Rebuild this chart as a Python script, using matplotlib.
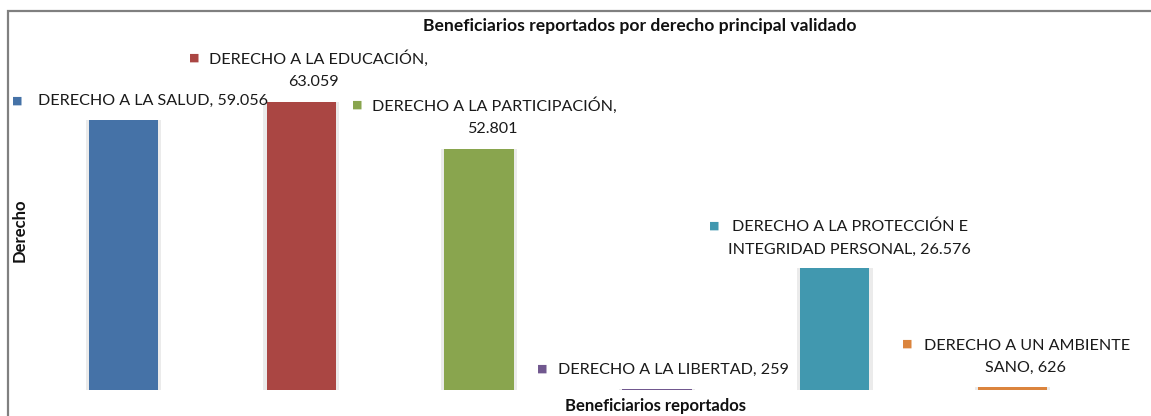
import matplotlib
matplotlib.use("Agg")
import matplotlib.pyplot as plt
from matplotlib.patches import Rectangle

categories = ["DERECHO A LA SALUD", "DERECHO A LA EDUCACIÓN", "DERECHO A LA PARTICIPACIÓN",
              "DERECHO A LA LIBERTAD", "DERECHO A LA PROTECCIÓN E INTEGRIDAD PERSONAL",
              "DERECHO A UN AMBIENTE SANO"]
values = [59056, 63059, 52801, 259, 26576, 626]
colors = ["#4572A7", "#AA4643", "#89A54E", "#71588F", "#4198AF", "#DB843D"]

title = "Beneficiarios reportados por derecho principal validado"
xlabel = "Beneficiarios reportados"
ylabel = "Derecho"

# label line splits (text) and layout offsets in pixels relative to bar top centre
label_lines = [
    ["DERECHO A LA SALUD, {v}"],
    ["DERECHO A LA EDUCACIÓN,", "{v}"],
    ["DERECHO A LA PARTICIPACIÓN,", "{v}"],
    ["DERECHO A LA LIBERTAD, {v}"],
    ["DERECHO A LA PROTECCIÓN E", "INTEGRIDAD PERSONAL, {v}"],
    ["DERECHO A UN AMBIENTE", "SANO, {v}"],
]
sq_off = [(-106.5, 19), (-107.5, 44), (-122, 44), (-115, 20), (-120.5, 43), (-105.5, 43)]
l1_off = [(-85.5, 19), (-92.5, 43), (-107, 43), (-99, 19), (-102.5, 42), (-88.5, 41)]
l2_off = [None, (12.5, 20), (13, 20), None, (15, 19), (12.5, 19)]

def fmt(v):
    return f"{v:,}".replace(",", ".")

W, H = 1151, 416
fig = plt.figure(figsize=(W / 100, H / 100), dpi=100)
fam = ["Lato", "DejaVu Sans"]

ax = fig.add_axes([34.5 / W, 26 / H, 1067 / W, 350 / H])
x = list(range(len(values)))
ax.bar(x, values, width=0.425, color="#ebebeb", zorder=1)
ax.bar(x, values, width=0.39, color=colors, zorder=2)
ax.set_xlim(-0.5, len(values) - 0.5)
ax.set_ylim(0, 350 / 0.004572)
ax.axis("off")

for i, v in enumerate(values):
    lines = [s.format(v=fmt(v)) for s in label_lines[i]]
    ax.annotate("■", xy=(i, v), xytext=sq_off[i], textcoords="offset pixels",
                ha="center", va="center", color=colors[i], fontsize=8,
                family=["DejaVu Sans"], zorder=5)
    ax.annotate(lines[0], xy=(i, v), xytext=l1_off[i], textcoords="offset pixels",
                ha="left", va="center", color="#1a1a1a", fontsize=11.6, family=fam, zorder=5)
    if len(lines) > 1:
        ax.annotate(lines[1], xy=(i, v), xytext=l2_off[i], textcoords="offset pixels",
                    ha="center", va="center", color="#1a1a1a", fontsize=11.6, family=fam, zorder=5)

fig.text(640 / W, 1 - 26 / H, title, ha="center", va="center", fontsize=12.6,
         fontweight="bold", family=fam, color="#111111")
fig.text(655 / W, 1 - 406 / H, xlabel, ha="center", va="center", fontsize=12,
         fontweight="bold", family=fam, color="#111111")
fig.text(20 / W, 1 - 230 / H, ylabel, ha="center", va="center", rotation=90,
         fontsize=12, fontweight="bold", family=fam, color="#111111")

# outer chart frame (cropped at right and bottom)
fig.patches.append(Rectangle((8 / W, -0.1), 1.2, 1 - 11 / H + 0.1, transform=fig.transFigure,
                             fill=False, edgecolor="#808080", linewidth=1.6, zorder=0))

fig.savefig("out.png", dpi=100)
